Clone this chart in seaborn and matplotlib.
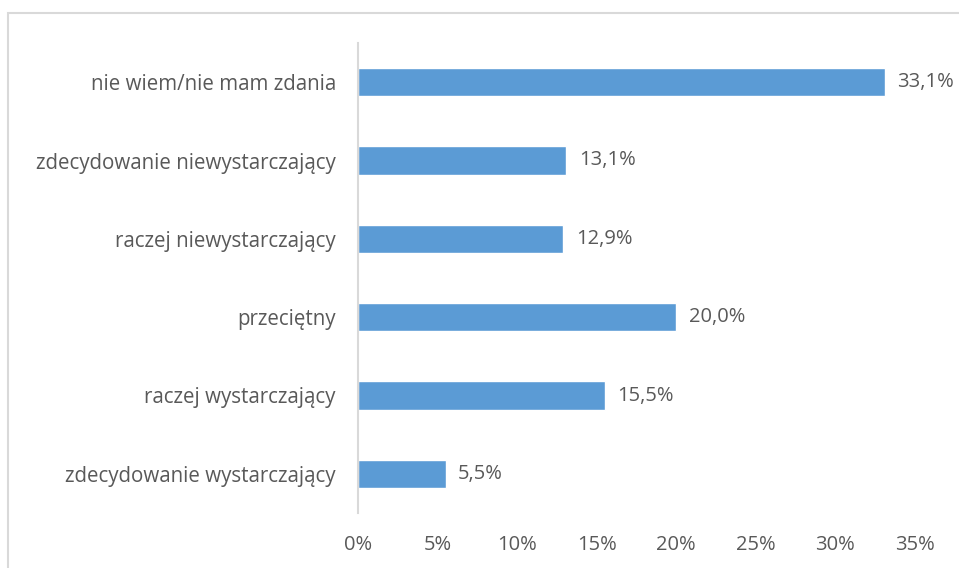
import matplotlib
matplotlib.use("Agg")
import matplotlib.pyplot as plt
import seaborn as sns
import pandas as pd
from matplotlib.patches import Rectangle

categories = ["nie wiem/nie mam zdania", "zdecydowanie niewystarczający",
              "raczej niewystarczający", "przeciętny",
              "raczej wystarczający", "zdecydowanie wystarczający"]
values = [33.1, 13.1, 12.9, 20.0, 15.5, 5.5]
xticks = [0, 5, 10, 15, 20, 25, 30, 35]
xtick_labels = ["0%", "5%", "10%", "15%", "20%", "25%", "30%", "35%"]

sns.set_theme(style="white")
plt.rcParams['font.family'] = ['Open Sans', 'DejaVu Sans']

df = pd.DataFrame({"cat": categories, "val": values})

fig = plt.figure(figsize=(9.59, 5.68), dpi=100)
ax = fig.add_axes([358/959, 1-513/568, (915-358)/959, (513-43)/568])

sns.barplot(data=df, y="cat", x="val", color="#5B9BD5", saturation=1,
            width=0.36, ax=ax, orient="h")

ax.set_xlim(0, 35)
ax.set_ylim(5.5, -0.5)
ax.set_xticks(xticks)
ax.set_xticklabels(xtick_labels)
ax.set_xlabel("")
ax.set_ylabel("")
ax.tick_params(axis="x", length=0, pad=16, labelsize=14.5, labelcolor="#595959")
ax.tick_params(axis="y", length=0, pad=16, labelsize=14.8, labelcolor="#595959")

for s in ["top", "right", "bottom"]:
    ax.spines[s].set_visible(False)
ax.spines["left"].set_color("#D9D9D9")
ax.spines["left"].set_linewidth(1.5)

for i, v in enumerate(values):
    ax.annotate(f"{v:.1f}%".replace(".", ","), xy=(v, i), xytext=(9, 0),
                textcoords="offset points", va="center", ha="left",
                fontsize=14.5, color="#595959")

fig.patches.append(Rectangle((8/959, -0.1), 1.5, 1.1 - 13.5/568,
                             transform=fig.transFigure, fill=False,
                             edgecolor="#D9D9D9", linewidth=1.5))

fig.savefig("out.png", dpi=100)
